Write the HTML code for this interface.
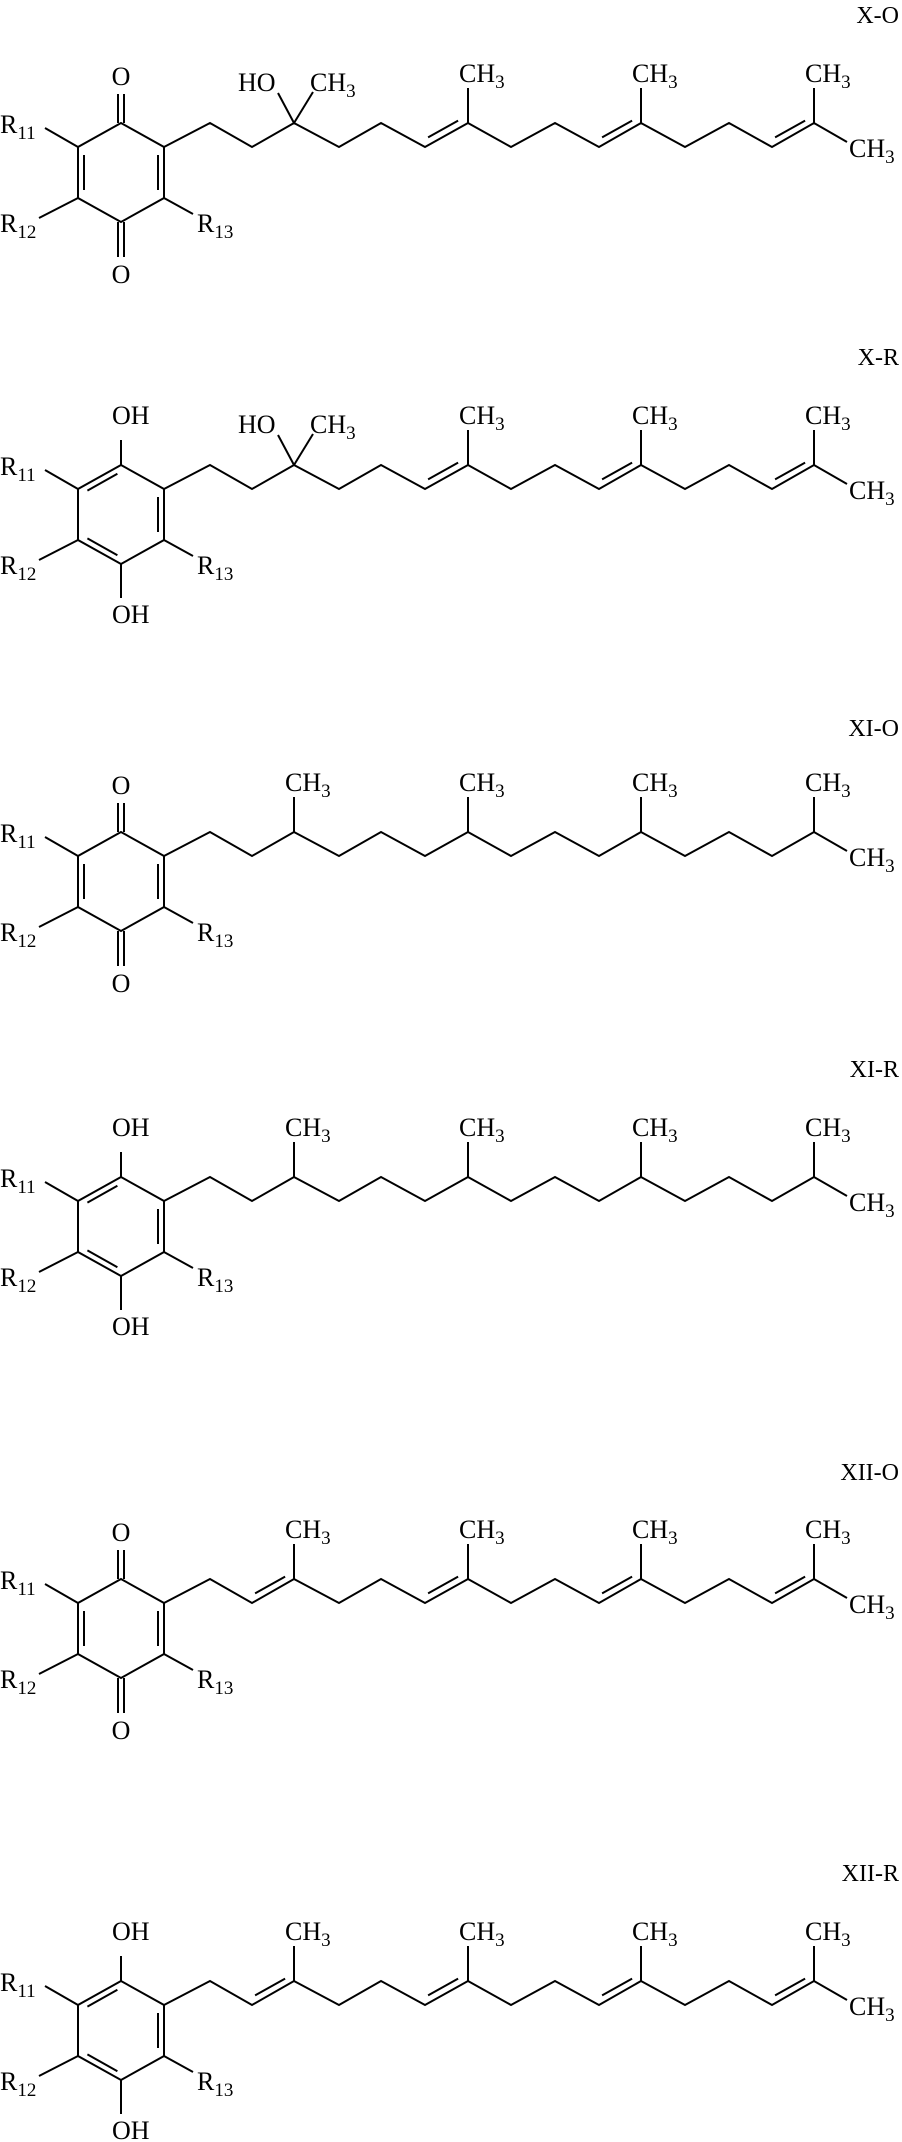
<!DOCTYPE html>
<html><head><meta charset="utf-8"><style>
html,body{margin:0;padding:0;background:#fff}
svg{display:block}
text{font-family:"Liberation Serif",serif;font-size:26px;fill:#000}
.s{font-size:19px}
.lab{font-size:24px}
</style></head><body>
<svg width="902" height="2142" viewBox="0 0 902 2142" xmlns="http://www.w3.org/2000/svg">
<g fill="none" stroke="#000" stroke-width="2" stroke-linejoin="miter">

<!-- Block 1: X-O -->
<g transform="translate(0,0)">
<polygon points="121,123 78,147 78,198 121,222 164,198 164,147"/>
<line x1="84" y1="155" x2="84" y2="190"/><line x1="158" y1="155" x2="158" y2="190"/>
<line x1="118" y1="123" x2="118" y2="94"/><line x1="124" y1="123" x2="124" y2="94"/>
<line x1="118" y1="222" x2="118" y2="257"/><line x1="124" y1="222" x2="124" y2="257"/>
<line x1="78" y1="147" x2="45" y2="128"/><line x1="78" y1="198" x2="39" y2="218"/><line x1="164" y1="198" x2="193" y2="214"/>
<polyline points="164,147 210,123 252,147 294,123 339,147 381,123 425,147 468,123 511,147 555,123 599,147 641,123 685,147 729,123 772,147 814,123 847,142"/>
<line x1="428.1" y1="137.4" x2="458.1" y2="120.6"/><line x1="602.1" y1="137.4" x2="632.1" y2="120.6"/><line x1="775.1" y1="137.4" x2="805.1" y2="120.6"/>
<line x1="294" y1="123" x2="278" y2="93"/><line x1="294" y1="123" x2="313" y2="92"/>
<line x1="468" y1="123" x2="468" y2="88"/><line x1="641" y1="123" x2="641" y2="88"/><line x1="814" y1="123" x2="814" y2="88"/>
</g>

<!-- Block 2: X-R -->
<g transform="translate(0,342)">
<polygon points="121,123 78,147 78,198 121,222 164,198 164,147"/>
<line x1="117.4" y1="131.8" x2="87.4" y2="148.6"/><line x1="87.4" y1="196.4" x2="117.4" y2="213.2"/><line x1="158" y1="155" x2="158" y2="190"/>
<line x1="121" y1="123" x2="121" y2="98"/><line x1="121" y1="222" x2="121" y2="256"/>
<line x1="78" y1="147" x2="45" y2="128"/><line x1="78" y1="198" x2="39" y2="218"/><line x1="164" y1="198" x2="193" y2="214"/>
<polyline points="164,147 210,123 252,147 294,123 339,147 381,123 425,147 468,123 511,147 555,123 599,147 641,123 685,147 729,123 772,147 814,123 847,142"/>
<line x1="428.1" y1="137.4" x2="458.1" y2="120.6"/><line x1="602.1" y1="137.4" x2="632.1" y2="120.6"/><line x1="775.1" y1="137.4" x2="805.1" y2="120.6"/>
<line x1="294" y1="123" x2="278" y2="93"/><line x1="294" y1="123" x2="313" y2="92"/>
<line x1="468" y1="123" x2="468" y2="88"/><line x1="641" y1="123" x2="641" y2="88"/><line x1="814" y1="123" x2="814" y2="88"/>
</g>

<!-- Block 3: XI-O -->
<g transform="translate(0,709)">
<polygon points="121,123 78,147 78,198 121,222 164,198 164,147"/>
<line x1="84" y1="155" x2="84" y2="190"/><line x1="158" y1="155" x2="158" y2="190"/>
<line x1="118" y1="123" x2="118" y2="94"/><line x1="124" y1="123" x2="124" y2="94"/>
<line x1="118" y1="222" x2="118" y2="257"/><line x1="124" y1="222" x2="124" y2="257"/>
<line x1="78" y1="147" x2="45" y2="128"/><line x1="78" y1="198" x2="39" y2="218"/><line x1="164" y1="198" x2="193" y2="214"/>
<polyline points="164,147 210,123 252,147 294,123 339,147 381,123 425,147 468,123 511,147 555,123 599,147 641,123 685,147 729,123 772,147 814,123 847,142"/>
<line x1="294" y1="123" x2="294" y2="88"/><line x1="468" y1="123" x2="468" y2="88"/><line x1="641" y1="123" x2="641" y2="88"/><line x1="814" y1="123" x2="814" y2="88"/>
</g>

<!-- Block 4: XI-R -->
<g transform="translate(0,1054)">
<polygon points="121,123 78,147 78,198 121,222 164,198 164,147"/>
<line x1="117.4" y1="131.8" x2="87.4" y2="148.6"/><line x1="87.4" y1="196.4" x2="117.4" y2="213.2"/><line x1="158" y1="155" x2="158" y2="190"/>
<line x1="121" y1="123" x2="121" y2="98"/><line x1="121" y1="222" x2="121" y2="256"/>
<line x1="78" y1="147" x2="45" y2="128"/><line x1="78" y1="198" x2="39" y2="218"/><line x1="164" y1="198" x2="193" y2="214"/>
<polyline points="164,147 210,123 252,147 294,123 339,147 381,123 425,147 468,123 511,147 555,123 599,147 641,123 685,147 729,123 772,147 814,123 847,142"/>
<line x1="294" y1="123" x2="294" y2="88"/><line x1="468" y1="123" x2="468" y2="88"/><line x1="641" y1="123" x2="641" y2="88"/><line x1="814" y1="123" x2="814" y2="88"/>
</g>

<!-- Block 5: XII-O -->
<g transform="translate(0,1456)">
<polygon points="121,123 78,147 78,198 121,222 164,198 164,147"/>
<line x1="84" y1="155" x2="84" y2="190"/><line x1="158" y1="155" x2="158" y2="190"/>
<line x1="118" y1="123" x2="118" y2="94"/><line x1="124" y1="123" x2="124" y2="94"/>
<line x1="118" y1="222" x2="118" y2="257"/><line x1="124" y1="222" x2="124" y2="257"/>
<line x1="78" y1="147" x2="45" y2="128"/><line x1="78" y1="198" x2="39" y2="218"/><line x1="164" y1="198" x2="193" y2="214"/>
<polyline points="164,147 210,123 252,147 294,123 339,147 381,123 425,147 468,123 511,147 555,123 599,147 641,123 685,147 729,123 772,147 814,123 847,142"/>
<line x1="255.1" y1="137.4" x2="285.1" y2="120.6"/><line x1="428.1" y1="137.4" x2="458.1" y2="120.6"/><line x1="602.1" y1="137.4" x2="632.1" y2="120.6"/><line x1="775.1" y1="137.4" x2="805.1" y2="120.6"/>
<line x1="294" y1="123" x2="294" y2="88"/><line x1="468" y1="123" x2="468" y2="88"/><line x1="641" y1="123" x2="641" y2="88"/><line x1="814" y1="123" x2="814" y2="88"/>
</g>

<!-- Block 6: XII-R -->
<g transform="translate(0,1858)">
<polygon points="121,123 78,147 78,198 121,222 164,198 164,147"/>
<line x1="117.4" y1="131.8" x2="87.4" y2="148.6"/><line x1="87.4" y1="196.4" x2="117.4" y2="213.2"/><line x1="158" y1="155" x2="158" y2="190"/>
<line x1="121" y1="123" x2="121" y2="98"/><line x1="121" y1="222" x2="121" y2="256"/>
<line x1="78" y1="147" x2="45" y2="128"/><line x1="78" y1="198" x2="39" y2="218"/><line x1="164" y1="198" x2="193" y2="214"/>
<polyline points="164,147 210,123 252,147 294,123 339,147 381,123 425,147 468,123 511,147 555,123 599,147 641,123 685,147 729,123 772,147 814,123 847,142"/>
<line x1="255.1" y1="137.4" x2="285.1" y2="120.6"/><line x1="428.1" y1="137.4" x2="458.1" y2="120.6"/><line x1="602.1" y1="137.4" x2="632.1" y2="120.6"/><line x1="775.1" y1="137.4" x2="805.1" y2="120.6"/>
<line x1="294" y1="123" x2="294" y2="88"/><line x1="468" y1="123" x2="468" y2="88"/><line x1="641" y1="123" x2="641" y2="88"/><line x1="814" y1="123" x2="814" y2="88"/>
</g>
</g>

<!-- TEXT -->
<!-- Block 1 -->
<g transform="translate(0,0)">
<text class="lab" x="899" y="23" text-anchor="end">X-O</text>
<text x="121" y="85" text-anchor="middle">O</text>
<text x="121" y="283" text-anchor="middle">O</text>
<text x="0" y="133">R<tspan class="s" dy="6">11</tspan></text>
<text x="0" y="232">R<tspan class="s" dy="6">12</tspan></text>
<text x="197" y="232">R<tspan class="s" dy="6">13</tspan></text>
<text x="238" y="91">HO</text>
<text x="310" y="91">CH<tspan class="s" dy="6">3</tspan></text>
<text x="459" y="82">CH<tspan class="s" dy="6">3</tspan></text>
<text x="632" y="82">CH<tspan class="s" dy="6">3</tspan></text>
<text x="805" y="82">CH<tspan class="s" dy="6">3</tspan></text>
<text x="849" y="157">CH<tspan class="s" dy="6">3</tspan></text>
</g>
<!-- Block 2 -->
<g transform="translate(0,342)">
<text class="lab" x="899" y="23" text-anchor="end">X-R</text>
<text x="112" y="82">OH</text>
<text x="112" y="281">OH</text>
<text x="0" y="133">R<tspan class="s" dy="6">11</tspan></text>
<text x="0" y="232">R<tspan class="s" dy="6">12</tspan></text>
<text x="197" y="232">R<tspan class="s" dy="6">13</tspan></text>
<text x="238" y="91">HO</text>
<text x="310" y="91">CH<tspan class="s" dy="6">3</tspan></text>
<text x="459" y="82">CH<tspan class="s" dy="6">3</tspan></text>
<text x="632" y="82">CH<tspan class="s" dy="6">3</tspan></text>
<text x="805" y="82">CH<tspan class="s" dy="6">3</tspan></text>
<text x="849" y="157">CH<tspan class="s" dy="6">3</tspan></text>
</g>
<!-- Block 3 -->
<g transform="translate(0,709)">
<text class="lab" x="899" y="27" text-anchor="end">XI-O</text>
<text x="121" y="85" text-anchor="middle">O</text>
<text x="121" y="283" text-anchor="middle">O</text>
<text x="0" y="133">R<tspan class="s" dy="6">11</tspan></text>
<text x="0" y="232">R<tspan class="s" dy="6">12</tspan></text>
<text x="197" y="232">R<tspan class="s" dy="6">13</tspan></text>
<text x="285" y="82">CH<tspan class="s" dy="6">3</tspan></text>
<text x="459" y="82">CH<tspan class="s" dy="6">3</tspan></text>
<text x="632" y="82">CH<tspan class="s" dy="6">3</tspan></text>
<text x="805" y="82">CH<tspan class="s" dy="6">3</tspan></text>
<text x="849" y="157">CH<tspan class="s" dy="6">3</tspan></text>
</g>
<!-- Block 4 -->
<g transform="translate(0,1054)">
<text class="lab" x="899" y="23" text-anchor="end">XI-R</text>
<text x="112" y="82">OH</text>
<text x="112" y="281">OH</text>
<text x="0" y="133">R<tspan class="s" dy="6">11</tspan></text>
<text x="0" y="232">R<tspan class="s" dy="6">12</tspan></text>
<text x="197" y="232">R<tspan class="s" dy="6">13</tspan></text>
<text x="285" y="82">CH<tspan class="s" dy="6">3</tspan></text>
<text x="459" y="82">CH<tspan class="s" dy="6">3</tspan></text>
<text x="632" y="82">CH<tspan class="s" dy="6">3</tspan></text>
<text x="805" y="82">CH<tspan class="s" dy="6">3</tspan></text>
<text x="849" y="157">CH<tspan class="s" dy="6">3</tspan></text>
</g>
<!-- Block 5 -->
<g transform="translate(0,1456)">
<text class="lab" x="899" y="24" text-anchor="end">XII-O</text>
<text x="121" y="85" text-anchor="middle">O</text>
<text x="121" y="283" text-anchor="middle">O</text>
<text x="0" y="133">R<tspan class="s" dy="6">11</tspan></text>
<text x="0" y="232">R<tspan class="s" dy="6">12</tspan></text>
<text x="197" y="232">R<tspan class="s" dy="6">13</tspan></text>
<text x="285" y="82">CH<tspan class="s" dy="6">3</tspan></text>
<text x="459" y="82">CH<tspan class="s" dy="6">3</tspan></text>
<text x="632" y="82">CH<tspan class="s" dy="6">3</tspan></text>
<text x="805" y="82">CH<tspan class="s" dy="6">3</tspan></text>
<text x="849" y="157">CH<tspan class="s" dy="6">3</tspan></text>
</g>
<!-- Block 6 -->
<g transform="translate(0,1858)">
<text class="lab" x="899" y="23" text-anchor="end">XII-R</text>
<text x="112" y="82">OH</text>
<text x="112" y="281">OH</text>
<text x="0" y="133">R<tspan class="s" dy="6">11</tspan></text>
<text x="0" y="232">R<tspan class="s" dy="6">12</tspan></text>
<text x="197" y="232">R<tspan class="s" dy="6">13</tspan></text>
<text x="285" y="82">CH<tspan class="s" dy="6">3</tspan></text>
<text x="459" y="82">CH<tspan class="s" dy="6">3</tspan></text>
<text x="632" y="82">CH<tspan class="s" dy="6">3</tspan></text>
<text x="805" y="82">CH<tspan class="s" dy="6">3</tspan></text>
<text x="849" y="157">CH<tspan class="s" dy="6">3</tspan></text>
</g>
</svg>
</body></html>
